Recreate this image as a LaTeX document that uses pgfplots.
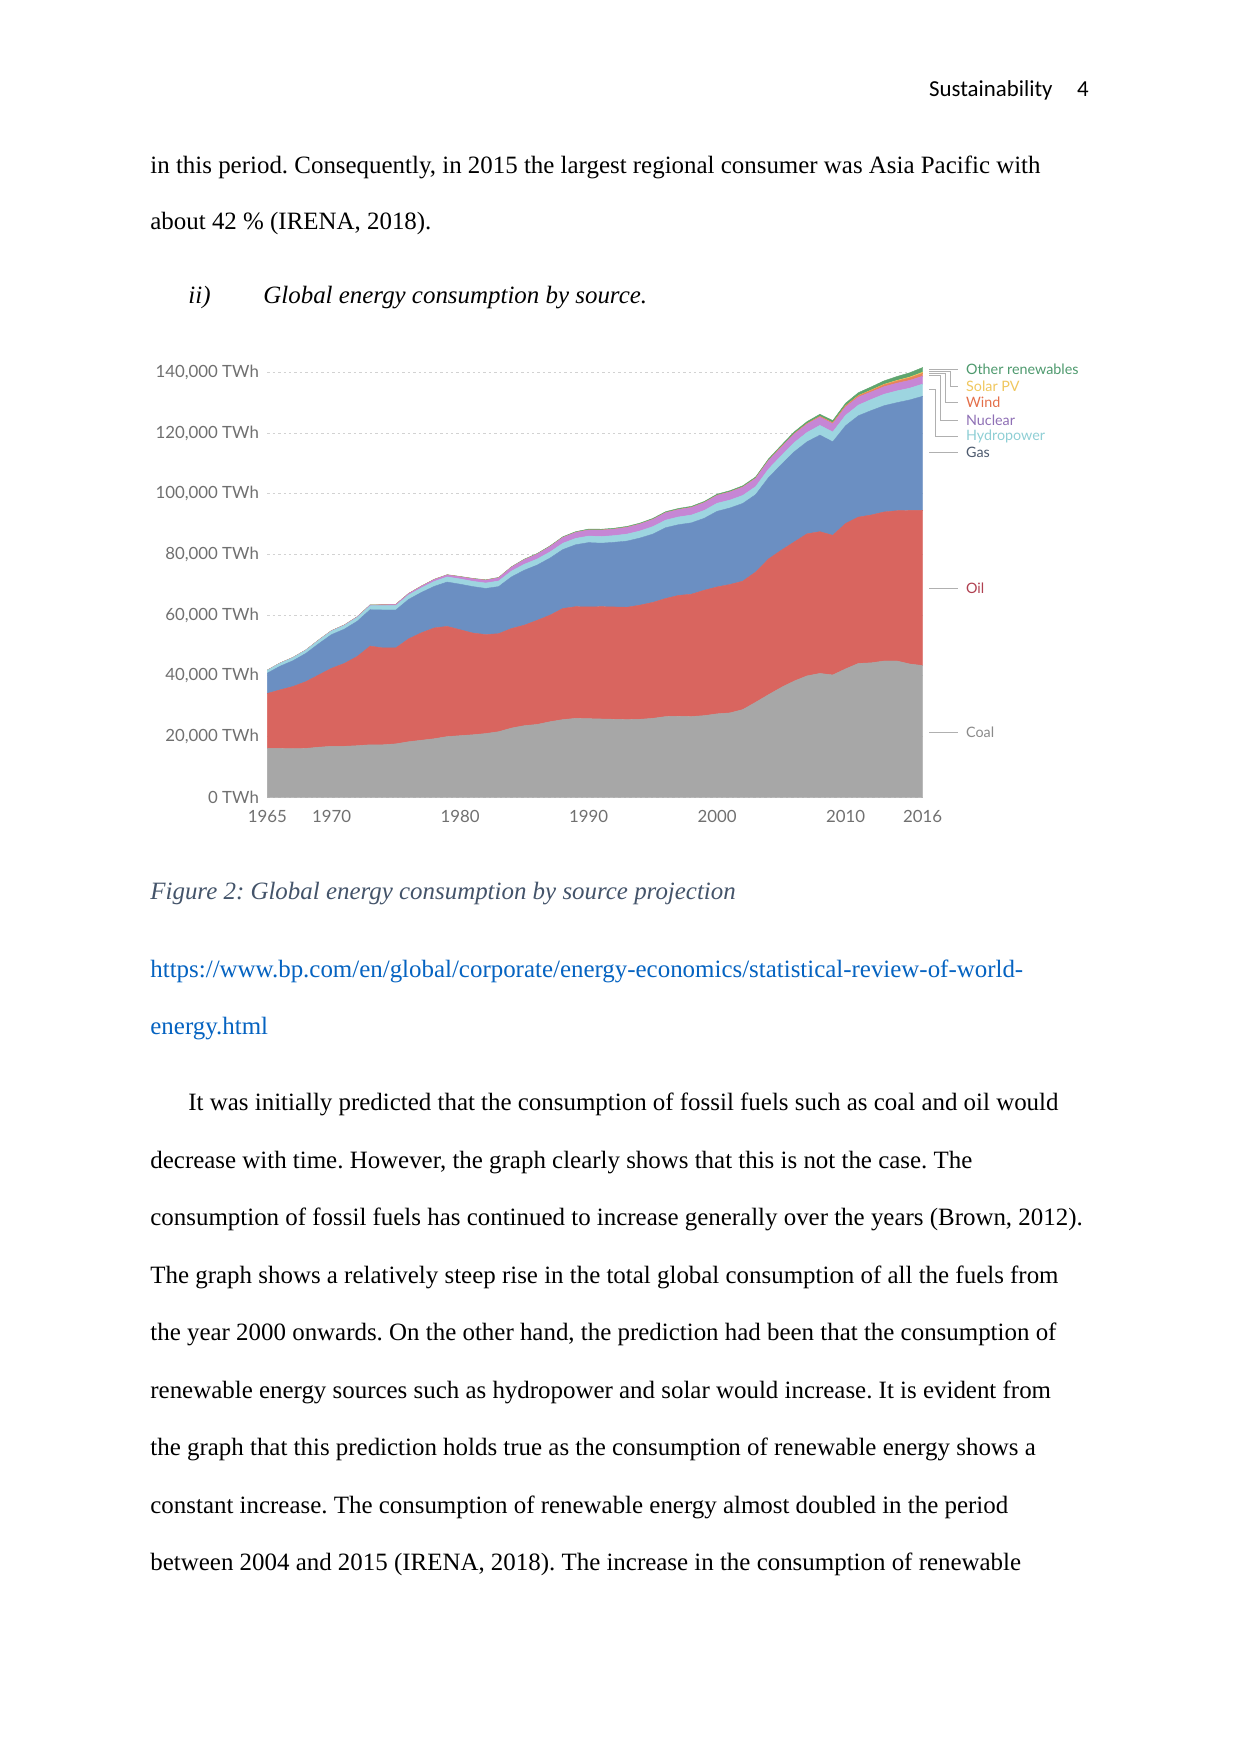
\documentclass[border=0pt]{standalone}
\usepackage{pgfplots}
\pgfplotsset{compat=1.18}
\usepackage{pgfplotstable}
\usepackage{fontspec}
\setmainfont{Liberation Serif}
\newfontfamily\lato{Lato}
\newfontfamily\carlito{Carlito}
\frenchspacing
\definecolor{cCoal}{HTML}{A7A7A7}
\definecolor{cOil}{HTML}{D9655F}
\definecolor{cGas}{HTML}{6B8FC2}
\definecolor{cHydro}{HTML}{9DD5E0}
\definecolor{cNuc}{HTML}{C686D5}
\definecolor{cWind}{HTML}{E8845A}
\definecolor{cSolar}{HTML}{F0CC5A}
\definecolor{cOther}{HTML}{5EA56E}
\definecolor{tCoal}{HTML}{8A8A8A}
\definecolor{tOil}{HTML}{B04050}
\definecolor{tGas}{HTML}{4D5A6E}
\definecolor{tHydro}{HTML}{8FCFD5}
\definecolor{tNuc}{HTML}{8E6FB5}
\definecolor{tWind}{HTML}{E46F4A}
\definecolor{tSolar}{HTML}{F0C75E}
\definecolor{tOther}{HTML}{4E9A6E}
\definecolor{tick}{HTML}{707070}
\definecolor{leader}{HTML}{B0B0B0}
\definecolor{caption}{HTML}{44546A}
\definecolor{link}{HTML}{0563C1}
\pgfplotstableread{
year coal oil gas hydro nuclear wind solar other
1965 16.1 18.1 6.7 0.92 0.03 0 0 0.05
1966 16.1 19.3 7.8 0.98 0.03 0 0 0.05
1967 16.0 20.5 8.5 1.00 0.04 0 0 0.05
1968 16.1 22.0 9.3 1.05 0.05 0 0 0.05
1969 16.5 23.8 10.3 1.12 0.06 0 0 0.06
1970 16.8 25.7 11.1 1.18 0.08 0 0 0.06
1971 16.8 27.3 11.3 1.22 0.11 0 0 0.06
1972 17.0 29.4 11.6 1.28 0.15 0 0 0.07
1973 17.3 32.5 12.0 1.31 0.20 0 0 0.07
1974 17.3 31.9 12.5 1.42 0.26 0 0 0.07
1975 17.6 31.6 12.5 1.44 0.37 0 0 0.08
1976 18.3 33.9 13.0 1.47 0.43 0 0 0.08
1977 18.8 35.4 13.3 1.51 0.53 0 0 0.08
1978 19.3 36.5 13.7 1.62 0.62 0 0 0.09
1979 20.0 36.3 14.6 1.69 0.65 0 0 0.09
1980 20.3 34.9 15.0 1.72 0.71 0 0 0.12
1981 20.6 33.5 15.3 1.74 0.84 0 0 0.13
1982 21.0 32.6 15.2 1.78 0.92 0 0 0.14
1983 21.6 32.3 15.5 1.85 1.03 0 0 0.15
1984 22.8 32.8 17.0 1.91 1.26 0 0 0.17
1985 23.6 33.1 18.1 1.96 1.48 0 0 0.20
1986 24.0 34.3 18.2 1.98 1.60 0 0 0.22
1987 24.9 35.1 18.8 2.02 1.75 0 0 0.24
1988 25.6 36.6 19.4 2.08 1.89 0 0 0.26
1989 26.0 36.8 20.4 2.09 1.94 0 0 0.28
1990 25.9 36.8 21.2 2.15 2.00 0.004 0 0.30
1991 25.8 37.0 20.9 2.20 2.10 0.004 0 0.30
1992 25.7 37.0 21.3 2.20 2.12 0.005 0 0.31
1993 25.6 37.0 21.8 2.31 2.20 0.006 0 0.32
1994 25.7 37.6 22.1 2.33 2.26 0.007 0 0.33
1995 26.0 38.2 22.5 2.46 2.34 0.008 0 0.35
1996 26.6 38.9 23.3 2.50 2.42 0.010 0 0.36
1997 26.7 39.8 23.3 2.55 2.42 0.012 0 0.37
1998 26.6 40.3 23.5 2.57 2.47 0.016 0 0.38
1999 26.9 41.3 23.7 2.59 2.55 0.021 0 0.39
2000 27.5 41.8 24.9 2.65 2.58 0.031 0.001 0.40
2001 27.8 42.3 25.2 2.60 2.65 0.038 0.001 0.41
2002 28.9 42.3 25.6 2.64 2.70 0.052 0.002 0.43
2003 31.3 42.9 25.5 2.63 2.67 0.063 0.002 0.46
2004 33.8 44.7 26.8 2.80 2.77 0.085 0.003 0.50
2005 36.2 45.2 28.2 2.92 2.79 0.104 0.004 0.55
2006 38.3 45.8 29.7 3.03 2.81 0.133 0.006 0.60
2007 40.0 46.8 30.3 3.08 2.75 0.171 0.008 0.65
2008 40.8 46.7 31.8 3.21 2.74 0.221 0.012 0.70
2009 40.3 46.0 30.8 3.24 2.70 0.277 0.021 0.75
2010 42.3 47.9 32.2 3.43 2.77 0.346 0.033 0.85
2011 44.1 48.2 33.4 3.50 2.65 0.437 0.065 0.95
2012 44.3 48.7 34.4 3.66 2.47 0.523 0.100 1.05
2013 44.9 49.1 35.0 3.78 2.49 0.640 0.135 1.15
2014 44.9 49.5 35.6 3.88 2.54 0.712 0.186 1.30
2015 43.9 50.6 36.4 3.88 2.57 0.831 0.256 1.42
2016 43.4 51.1 37.6 4.02 2.61 0.960 0.333 1.55
}\energy
\begin{document}
\begin{tikzpicture}
\begin{scope}[x=0.169218mm,y=-0.169218mm]
\path[use as bounding box, fill=white] (0,0) rectangle (1241,1754);
\end{scope}
% chart (placed in absolute mm: x=267.3px, y=797.3px from top-left)
\begin{axis}[at={(45.232mm,-134.918mm)}, anchor=south west, scale only axis,
  width=110.91mm, height=71.92mm,
  xmin=1965, xmax=2016, ymin=0, ymax=140,
  stack plots=y, clip=false,
  axis line style={draw=none}, tick style={draw=none}, major tick length=0pt,
  xtick={1965,1970,1980,1990,2000,2010,2016},
  xticklabels={1965,1970,1980,1990,2000,2010,2016},
  ytick={0,20,40,60,80,100,120,140},
  yticklabels={0 TWh,{20,000 TWh},{40,000 TWh},{60,000 TWh},{80,000 TWh},{100,000 TWh},{120,000 TWh},{140,000 TWh}},
  xticklabel style={font=\lato\fontsize{8.1}{9.5}\selectfont, text=tick, anchor=north, inner sep=0pt, yshift=-2.1mm},
  yticklabel style={font=\lato\fontsize{8.1}{9.5}\selectfont, text=tick, anchor=east, inner sep=0pt, xshift=-1.35mm},
  ymajorgrids, grid style={draw=gray!35, line width=0.4pt, dash pattern=on 1.2pt off 1.4pt},
  every axis plot/.append style={mark=none, line width=0.2pt}]
\addplot[fill=cCoal, draw=cCoal] table[x=year,y=coal]{\energy} \closedcycle;
\addplot[fill=cOil, draw=cOil] table[x=year,y=oil]{\energy} \closedcycle;
\addplot[fill=cGas, draw=cGas] table[x=year,y=gas]{\energy} \closedcycle;
\addplot[fill=cHydro, draw=cHydro] table[x=year,y=hydro]{\energy} \closedcycle;
\addplot[fill=cNuc, draw=cNuc] table[x=year,y=nuclear]{\energy} \closedcycle;
\addplot[fill=cWind, draw=cWind] table[x=year,y=wind]{\energy} \closedcycle;
\addplot[fill=cSolar, draw=cSolar] table[x=year,y=solar]{\energy} \closedcycle;
\addplot[fill=cOther, draw=cOther] table[x=year,y=other]{\energy} \closedcycle;
\end{axis}
\begin{scope}[x=0.169218mm,y=-0.169218mm]
\tikzset{body/.style={anchor=base west, inner sep=0pt, font=\fontsize{12}{14}\selectfont},
  lab/.style={anchor=west, inner sep=0pt, font=\lato\fontsize{6.9}{8}\selectfont},
  ld/.style={draw=leader, line width=0.45pt}}
% header
\node[anchor=base east, inner sep=0pt, font=\carlito\fontsize{11}{13}\selectfont] at (1053,96.5) {Sustainability};
\node[anchor=base east, inner sep=0pt, font=\carlito\fontsize{11}{13}\selectfont] at (1089,96.5) {4};
% top text
\node[body] at (150,173.3) {in this period. Consequently, in 2015 the largest regional consumer was Asia Pacific with};
\node[body] at (150,230) {about 42 \% (IRENA, 2018).};
\node[body, font=\fontsize{12}{14}\selectfont\itshape] at (188,304) {ii)};
\node[body, font=\fontsize{12}{14}\selectfont\itshape] at (263,304) {Global energy consumption by source.};
% leader lines
\draw[ld] (929.3,369.3) -- (958.3,369.3);
\draw[ld] (929.3,371.2) -- (950,371.2) -- (950,386) -- (958.3,386);
\draw[ld] (929.3,373.2) -- (945,373.2) -- (945,402.7) -- (958.3,402.7);
\draw[ld] (929.3,375.6) -- (940,375.6) -- (940,420) -- (958.3,420);
\draw[ld] (929.3,389) -- (935,389) -- (935,436.7) -- (958.3,436.7);
\draw[ld] (929.3,452.7) -- (958.3,452.7);
\draw[ld] (929.3,588.3) -- (958.3,588.3);
\draw[ld] (929.3,732.3) -- (958.3,732.3);
\node[lab, text=tOther] at (965.7,369.3) {Other renewables};
\node[lab, text=tSolar] at (965.7,386) {Solar PV};
\node[lab, text=tWind] at (965.7,402.7) {Wind};
\node[lab, text=tNuc] at (965.7,420) {Nuclear};
\node[lab, text=tHydro] at (965.7,436.7) {Hydropower};
\node[lab, text=tGas] at (965.7,452.7) {Gas};
\node[lab, text=tOil] at (965.7,588.3) {Oil};
\node[lab, text=tCoal] at (965.7,732.3) {Coal};
% caption and link
\node[body, font=\fontsize{12}{14}\selectfont\itshape, text=caption] at (150,899.3) {Figure 2: Global energy consumption by source projection};
\node[body, text=link] at (150,977.3) {https://www.bp.com/en/global/corporate/energy-economics/statistical-review-of-world-};
\node[body, text=link] at (150,1034) {energy.html};
% paragraph
\node[body] at (188,1110.7) {It was initially predicted that the consumption of fossil fuels such as coal and oil would};
\node[body] at (150,1168.2) {decrease with time. However, the graph clearly shows that this is not the case. The};
\node[body] at (150,1225.7) {consumption of fossil fuels has continued to increase generally over the years (Brown, 2012).};
\node[body] at (150,1283.2) {The graph shows a relatively steep rise in the total global consumption of all the fuels from};
\node[body] at (150,1340.7) {the year 2000 onwards. On the other hand, the prediction had been that the consumption of};
\node[body] at (150,1398.2) {renewable energy sources such as hydropower and solar would increase. It is evident from};
\node[body] at (150,1455.7) {the graph that this prediction holds true as the consumption of renewable energy shows a};
\node[body] at (150,1513.2) {constant increase. The consumption of renewable energy almost doubled in the period};
\node[body] at (150,1570.7) {between 2004 and 2015 (IRENA, 2018). The increase in the consumption of renewable};
\end{scope}
\end{tikzpicture}
\end{document}
